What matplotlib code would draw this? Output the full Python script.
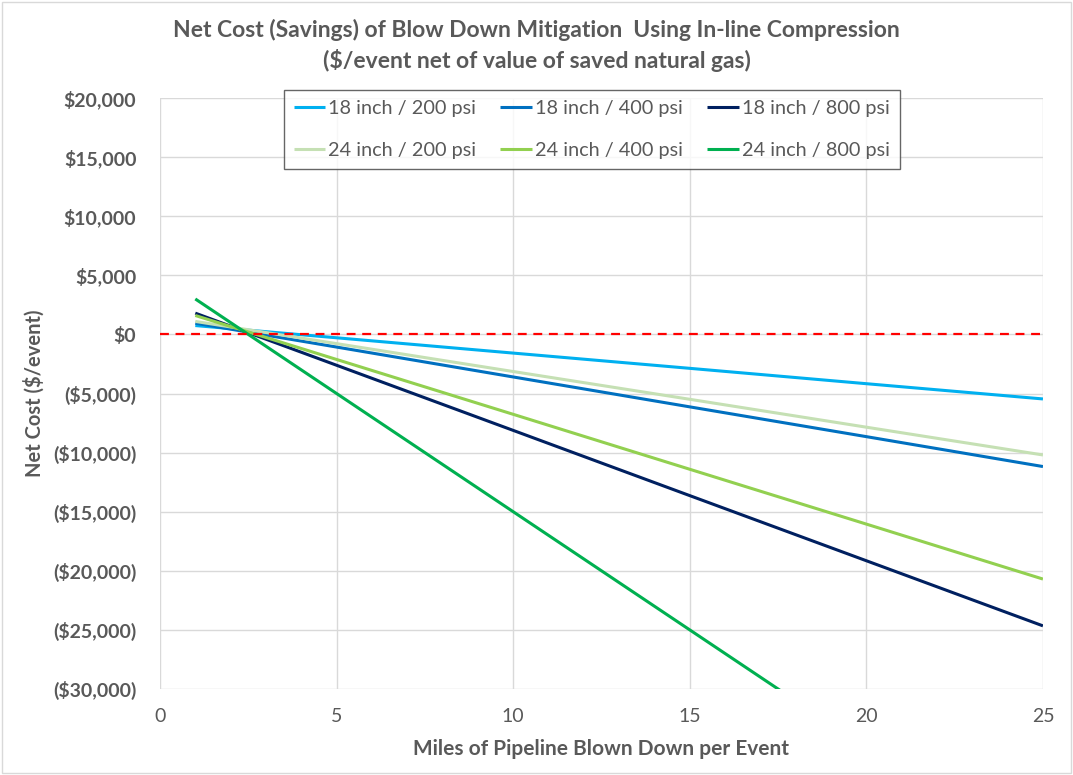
import matplotlib.pyplot as plt
from matplotlib.patches import Rectangle
from matplotlib.ticker import FuncFormatter

# --- data ---
miles = [1, 5, 10, 15, 20, 25]
labels = ["18 inch / 200 psi", "18 inch / 400 psi", "18 inch / 800 psi",
          "24 inch / 200 psi", "24 inch / 400 psi", "24 inch / 800 psi"]
cost_18_200 = [750, -285, -1580, -2870, -4170, -5460]
cost_18_400 = [950, -1070, -3600, -6130, -8650, -11180]
cost_18_800 = [1800, -2610, -8120, -13640, -19150, -24660]
cost_24_200 = [1100, -780, -3140, -5490, -7850, -10200]
cost_24_400 = [1600, -2120, -6760, -11410, -16050, -20700]
cost_24_800 = [3000, -5000, -15000, -25000, -35000, -45000]
series = [cost_18_200, cost_18_400, cost_18_800, cost_24_200, cost_24_400, cost_24_800]
colors = ["#00b0f0", "#0070c0", "#002060", "#c5e0b4", "#92d050", "#00b050"]

plt.rcParams['font.family'] = ['Lato', 'DejaVu Sans']
grey = "#595959"

fig = plt.figure(figsize=(10.73, 7.75), dpi=100)
ax = fig.add_axes([0.1491, 0.1110, 0.8229, 0.7625])

lines = {}
for lab, ys, c in zip(labels, series, colors):
    lines[lab], = ax.plot(miles, ys, color=c, lw=2.2, solid_capstyle='butt')

ax.axhline(0, color='red', ls=(0, (4, 3)), lw=1.6, zorder=3)

ax.set_xlim(0, 25)
ax.set_ylim(-30000, 20000)
ax.set_xticks(range(0, 26, 5))
ax.set_yticks(range(-30000, 20001, 5000))

def money(v, pos):
    if v < 0:
        return "(${:,.0f})".format(-v)
    return "${:,.0f}".format(v)

ax.yaxis.set_major_formatter(FuncFormatter(money))
for s in ax.spines.values():
    s.set_visible(False)
ax.grid(True, color="#d9d9d9", lw=1)
ax.set_axisbelow(True)
ax.tick_params(axis='y', length=0, pad=17, labelsize=14, colors=grey)
ax.tick_params(axis='x', length=0, pad=14, labelsize=14, colors=grey)
for t in ax.get_yticklabels():
    t.set_fontweight('bold')

ax.set_xlabel("Miles of Pipeline Blown Down per Event", fontsize=15,
              fontweight='bold', color=grey, labelpad=10)
ax.set_ylabel("Net Cost ($/event)", fontsize=14.5, fontweight='bold',
              color=grey, labelpad=6)

fig.text(0.5, 0.961, "Net Cost (Savings) of Blow Down Mitigation  Using In-line Compression",
         ha='center', va='center', fontsize=16.5, fontweight='bold', color=grey)
fig.text(0.5, 0.922, "($/event net of value of saved natural gas)",
         ha='center', va='center', fontsize=16.5, fontweight='bold', color=grey)

# legend order column-wise so rows read 18 inch then 24 inch
order = [0, 3, 1, 4, 2, 5]
leg = fig.legend([lines[labels[i]] for i in order], [labels[i] for i in order],
                 ncol=3, loc='upper center', bbox_to_anchor=(0.5513, 0.8839),
                 borderaxespad=0, frameon=True, fancybox=False, edgecolor="#404040",
                 fontsize=14.3, handlelength=1.6, handletextpad=0.15,
                 columnspacing=1.2, labelspacing=1.25, borderpad=0.5)
leg.get_frame().set_linewidth(1.0)
for t in leg.get_texts():
    t.set_color(grey)

fig.patches.append(Rectangle((0.002, 0.002), 0.996, 0.996, transform=fig.transFigure,
                             fill=False, edgecolor="#d9d9d9", lw=1))

fig.savefig("out.png", dpi=100)
